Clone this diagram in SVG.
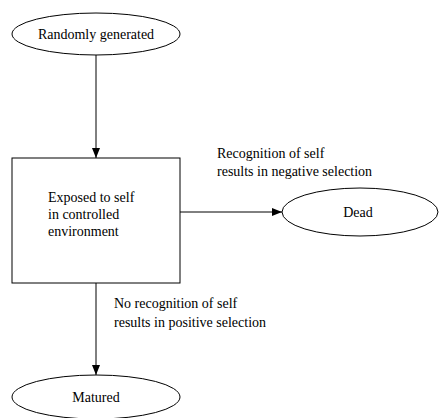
<svg xmlns="http://www.w3.org/2000/svg" width="439" height="418" viewBox="0 0 439 418">
<defs>
<marker id="arr" markerWidth="10" markerHeight="8" refX="10" refY="4" orient="auto" markerUnits="userSpaceOnUse">
<path d="M0,0 L10,4 L0,8 z" fill="#000"/>
</marker>
<style>
.s{fill:#fff;stroke:#000;stroke-width:1}
.t{font-family:'Liberation Serif','Times New Roman',Times,'DejaVu Serif',serif;font-size:14px;fill:#000}
.c{fill:none;stroke:#000;stroke-width:1}
</style>
</defs>
<rect width="439" height="418" fill="#fff"/>
<g id="connectors">
<line class="c" x1="96" y1="55" x2="96" y2="158" marker-end="url(#arr)"/>
<line class="c" x1="180" y1="212" x2="282" y2="212" marker-end="url(#arr)"/>
<line class="c" x1="96" y1="283" x2="96" y2="375" marker-end="url(#arr)"/>
<text class="t" x="217" y="158">Recognition of self</text>
<text class="t" x="217" y="176">results in negative selection</text>
<text class="t" x="114" y="308">No recognition of self</text>
<text class="t" x="114" y="327">results in positive selection</text>
</g>
<g id="randomly">
<ellipse class="s" cx="96" cy="34" rx="84" ry="21"/>
<text class="t" x="96" y="39" text-anchor="middle">Randomly generated</text>
</g>
<g id="exposed">
<rect class="s" x="12" y="158" width="168" height="125"/>
<text class="t" x="48" y="202">Exposed to self</text>
<text class="t" x="48" y="219">in controlled</text>
<text class="t" x="48" y="236">environment</text>
</g>
<g id="dead">
<ellipse class="s" cx="360" cy="212" rx="78" ry="24"/>
<text class="t" x="358" y="217" text-anchor="middle">Dead</text>
</g>
<g id="matured">
<ellipse class="s" cx="96" cy="397" rx="84" ry="22"/>
<text class="t" x="96" y="402" text-anchor="middle">Matured</text>
</g>
</svg>
